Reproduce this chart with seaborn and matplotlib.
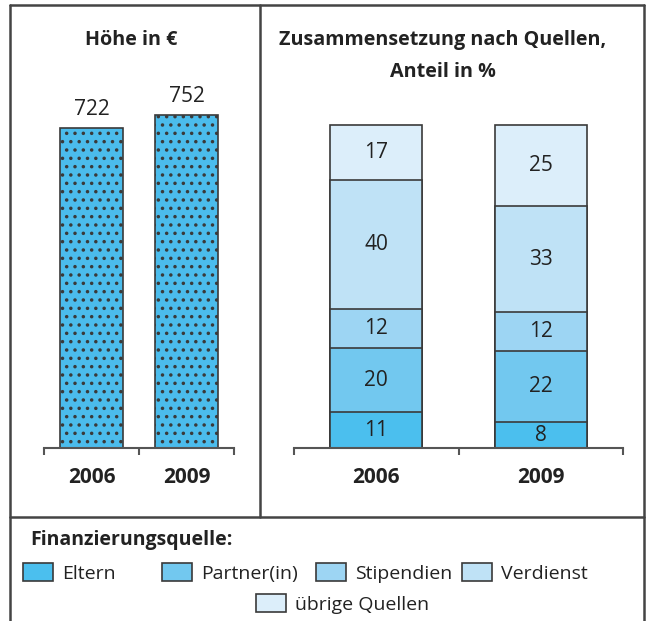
import matplotlib
matplotlib.use("Agg")
import matplotlib.pyplot as plt
from matplotlib.lines import Line2D
import seaborn as sns
import pandas as pd
import numpy as np

# ---- data ----
years = ["2006", "2009"]
amount = [722, 752]
sources = ["Eltern", "Partner(in)", "Stipendien", "Verdienst", "übrige Quellen"]
share_2006 = [11, 20, 12, 40, 17]
share_2009 = [8, 22, 12, 33, 25]
colors = ["#4bbfee", "#72c8ef", "#9dd5f3", "#bfe2f6", "#dceefa"]

title_left = "Höhe in €"
title_right = "Zusammensetzung nach Quellen,\nAnteil in %"
legend_title = "Finanzierungsquelle:"

sns.set_theme(style="white")
plt.rcParams["font.family"] = ["Open Sans", "DejaVu Sans"]
plt.rcParams["hatch.color"] = "black"
plt.rcParams["hatch.linewidth"] = 1.3

W, H = 646, 621
fig = plt.figure(figsize=(W / 100, H / 100), dpi=100)

def fx(px):
    return px / W

def fy(py):
    return 1 - py / H

txt = "#222222"
edge = "#3a3a3a"
base_y = 448
top_y = 90

# ---- left axes ----
axL = fig.add_axes([fx(44), fy(base_y), fx(234 - 44), (base_y - top_y) / H])
dfL = pd.DataFrame({"Jahr": years, "Wert": amount})
sns.barplot(data=dfL, x="Jahr", y="Wert", ax=axL, color="#4bbcec",
            width=0.67, edgecolor=edge, linewidth=1.2, saturation=1)
for p in axL.patches:
    p.set_hatch("..")
    p.set_facecolor("#4bbcec")
px_per_unit = 320 / 722
axL.set_ylim(0, (base_y - top_y) / px_per_unit)
axL.set_xlim(-0.5, 1.5)
for i, v in enumerate(amount):
    axL.annotate(str(v), (i, v), xytext=(0, 5.5), textcoords="offset points",
                 ha="center", va="bottom", fontsize=15, color=txt)

# ---- right axes ----
axR = fig.add_axes([fx(294), fy(base_y), fx(623 - 294), (base_y - top_y) / H])
dfR = pd.DataFrame({"Jahr": np.repeat(years, len(sources)),
                    "Quelle": sources * 2,
                    "Anteil": share_2006 + share_2009})
dfR["cum"] = dfR.groupby("Jahr")["Anteil"].cumsum()
for k in range(len(sources) - 1, -1, -1):
    sub = dfR[dfR["Quelle"] == sources[k]]
    sns.barplot(data=sub, x="Jahr", y="cum", ax=axR, color=colors[k],
                width=0.56, edgecolor=edge, linewidth=1.2, saturation=1)
axR.set_ylim(0, (base_y - top_y) / 3.23)
axR.set_xlim(-0.5, 1.5)
for _, r in dfR.iterrows():
    xi = years.index(r["Jahr"])
    axR.text(xi, r["cum"] - r["Anteil"] / 2, str(r["Anteil"]), ha="center",
             va="center", fontsize=15, color=txt)

for ax in (axL, axR):
    sns.despine(ax=ax, left=True, top=True, right=True)
    ax.spines["bottom"].set_color("#555555")
    ax.spines["bottom"].set_linewidth(1.5)
    ax.set_yticks([])
    ax.set_xlabel("")
    ax.set_ylabel("")
    ax.set_xticks([0, 1])
    ax.set_xticklabels(years, fontsize=15, fontweight="bold", color=txt)
    ax.set_xticks([-0.5, 0.5, 1.5], minor=True)
    ax.tick_params(axis="x", which="major", length=0, pad=14)
    ax.tick_params(axis="x", which="minor", length=5, width=1.5, color="#555555",
                   bottom=True, direction="out")
    ax.patch.set_alpha(0)

# ---- titles ----
fig.text(fx(131), fy(40), title_left, ha="center", va="center",
         fontsize=14.2, fontweight="bold", color=txt)
fig.text(fx(443), fy(56), title_right, ha="center", va="center",
         fontsize=14.2, fontweight="bold", color=txt, linespacing=1.75)

# ---- frame ----
lc = "#444444"
for (x0, y0, x1, y1) in [(10, 5, 644, 5), (10, 5, 10, 621), (644, 5, 644, 621),
                         (260, 5, 260, 517), (10, 517, 644, 517)]:
    fig.add_artist(Line2D([fx(x0), fx(x1)], [fy(y0), fy(y1)], color=lc,
                          linewidth=1.8, transform=fig.transFigure))

# ---- legend ----
fig.text(fx(30), fy(540), legend_title, ha="left", va="center",
         fontsize=14, fontweight="bold", color=txt)
leg_pos = [(23, 573), (162, 573), (316, 573), (462, 573), (256, 604)]
for k, (lx, ly) in enumerate(leg_pos):
    h = plt.Rectangle((0, 0), 1, 1, facecolor=colors[k], edgecolor=edge,
                      linewidth=1.2)
    leg = fig.legend([h], [sources[k]], loc="center left",
                     bbox_to_anchor=(fx(lx), fy(ly)), frameon=False,
                     fontsize=14, handlelength=1.55, handleheight=1.0,
                     handletextpad=0.45, borderpad=0, borderaxespad=0)
    for t in leg.get_texts():
        t.set_color(txt)

fig.savefig("out.png", dpi=100)
